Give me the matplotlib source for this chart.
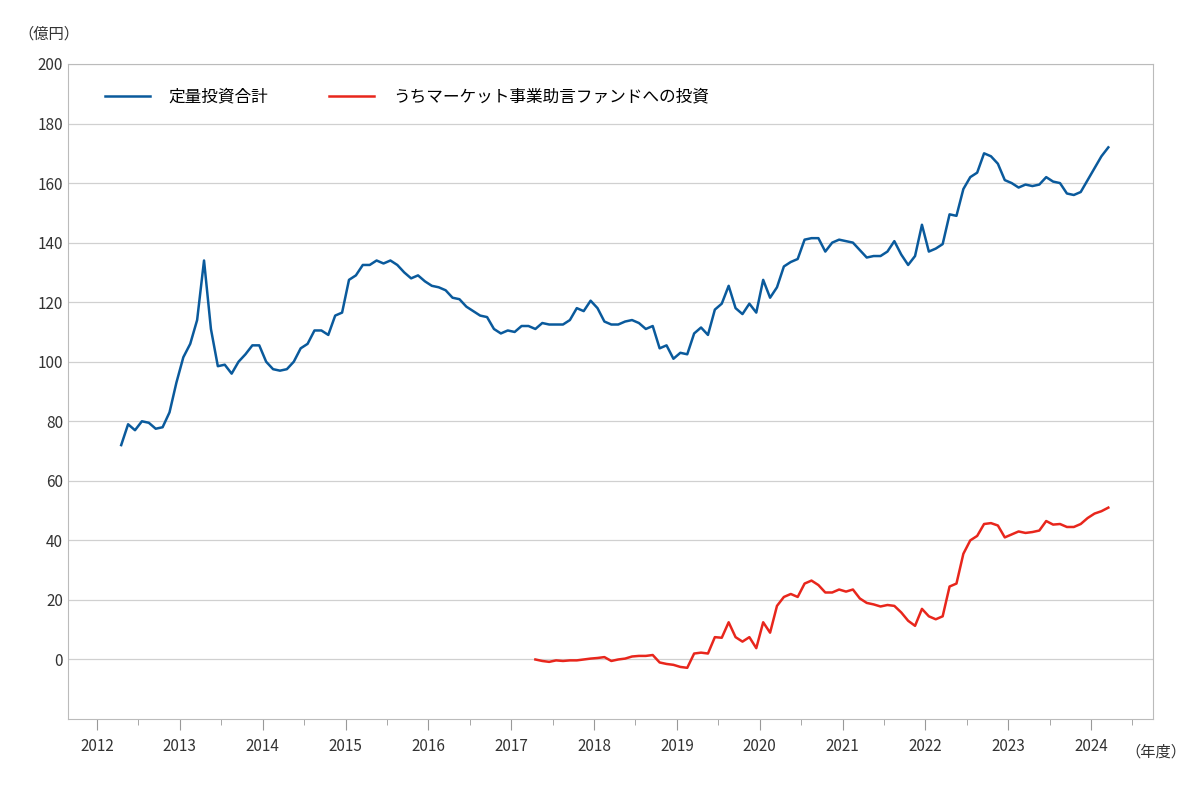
import matplotlib
matplotlib.use("Agg")
import matplotlib.pyplot as plt
import numpy as np

plt.rcParams["font.family"] = "Noto Sans CJK JP"

total = [72,79,77,80,79.5,77.5,78,83,93,
 101.5,106,114,134,111,98.5,99,96,100,102.5,105.5,105.5,
 100,97.5,97,97.5,100,104.5,106,110.5,110.5,109,115.5,116.5,
 127.5,129,132.5,132.5,134,133,134,132.5,130,128,129,127,
 125.5,125,124,121.5,121,118.5,117,115.5,115,111,109.5,110.5,
 110,112,112,111,113,112.5,112.5,112.5,114,118,117,120.5,
 118,113.5,112.5,112.5,113.5,114,113,111,112,104.5,105.5,101,
 103,102.5,109.5,111.5,109,117.5,119.5,125.5,118,116,119.5,116.5,
 127.5,121.5,125,132,133.5,134.5,141,141.5,141.5,137,140,141,
 140.5,140,137.5,135,135.5,135.5,137,140.5,136,132.5,135.5,146,
 137,138,139.5,149.5,149,158,162,163.5,170,169,166.5,161,
 160,158.5,159.5,159,159.5,162,160.5,160,156.5,156,157,161,
 165,169,172]
market = [0,-0.5,-0.8,-0.3,-0.5,-0.3,-0.3,0,0.3,
 0.5,0.8,-0.5,0,0.3,1,1.2,1.2,1.5,-1,-1.5,-1.8,
 -2.5,-2.8,2,2.3,2,7.5,7.3,12.5,7.5,6,7.5,3.8,
 12.5,9,18,21,22,21,25.5,26.5,25,22.5,22.5,23.5,
 22.8,23.5,20.5,19,18.5,17.8,18.3,18,15.8,13,11.3,17,
 14.5,13.5,14.5,24.5,25.5,35.5,40,41.5,45.5,45.8,45,41,
 42,43,42.5,42.8,43.3,46.5,45.3,45.5,44.5,44.5,45.5,47.5,
 49,49.8,51]
total_start = 2012 + 3.5/12   # April 2012
market_start = 2017 + 3.5/12  # April 2017
years = list(range(2012, 2025))
yticks = list(range(0, 201, 20))

xt = total_start + np.arange(len(total))/12
xm = market_start + np.arange(len(market))/12

fig = plt.figure(figsize=(12, 7.86), dpi=100)
ax = fig.add_axes([0.0567, 0.0852, 0.9043, 0.8334])
ax.plot(xt, total, color="#0a5a9c", lw=1.8, label="定量投資合計")
ax.plot(xm, market, color="#e8261c", lw=1.8, label="うちマーケット事業助言ファンドへの投資")
ax.set_xlim(2011.65, 2024.75)
ax.set_ylim(-20, 200)
ax.set_yticks(yticks)
ax.set_xticks(years)
ax.set_xticks([y+0.5 for y in years], minor=True)
ax.tick_params(axis="y", length=0, labelsize=11, colors="#333333")
ax.tick_params(axis="x", which="major", length=8, color="#999999", labelsize=11, labelcolor="#333333", pad=6)
ax.tick_params(axis="x", which="minor", length=4, color="#999999")
ax.grid(axis="y", color="#d0d0d0", lw=0.9)
for s in ax.spines.values():
    s.set_color("#bbbbbb")
ax.set_axisbelow(True)
ax.legend(loc="upper left", bbox_to_anchor=(0.02, 0.985), ncol=2, frameon=False,
          fontsize=12, handlelength=2.7, handletextpad=1.1, columnspacing=3.7)
fig.text(0.015, 0.951, "（億円）", fontsize=11, color="#333333")
fig.text(0.938, 0.037, "（年度）", fontsize=11, color="#333333")
fig.savefig("out.png", dpi=100)
